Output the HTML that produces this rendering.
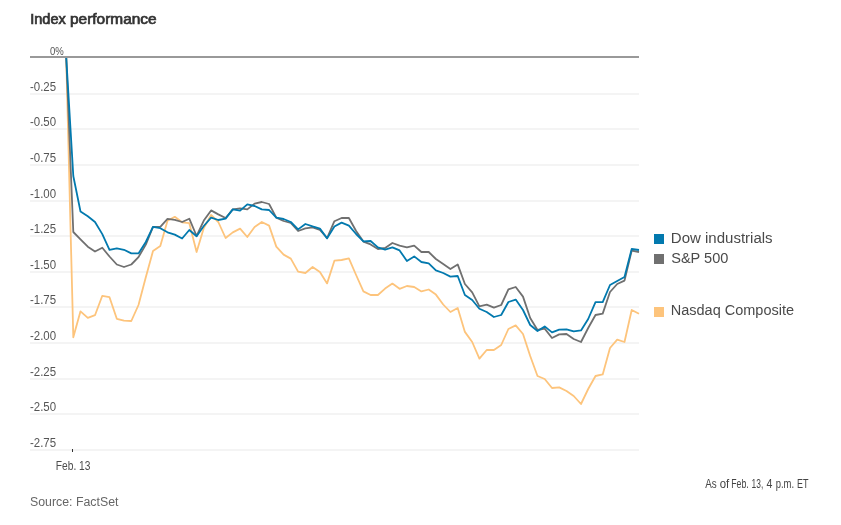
<!DOCTYPE html>
<html><head><meta charset="utf-8"><title>Index performance</title>
<style>
html,body{margin:0;padding:0;background:#fff;}
svg{display:block;will-change:transform;font-family:"Liberation Sans",sans-serif;}
.grid rect{fill:#f4f4f4;}
.yl text{font-size:12px;fill:#555;}
.ln{fill:none;stroke-width:1.8;stroke-linejoin:round;stroke-linecap:butt;}
</style></head><body>
<svg width="841" height="525" viewBox="0 0 841 525">
<rect width="841" height="525" fill="#fff"/>
<g font-size="14.5" fill="#333" stroke="#333" stroke-width="0.7"><text x="30.2" y="24" textLength="35.6" lengthAdjust="spacingAndGlyphs">Index</text><text x="70.0" y="24" textLength="86.6" lengthAdjust="spacingAndGlyphs">performance</text></g>
<g class="grid"><rect x="30" y="93" width="609" height="2"/><rect x="30" y="128" width="609" height="2"/><rect x="30" y="164" width="609" height="2"/><rect x="30" y="200" width="609" height="2"/><rect x="30" y="235" width="609" height="2"/><rect x="30" y="271" width="609" height="2"/><rect x="30" y="306" width="609" height="2"/><rect x="30" y="342" width="609" height="2"/><rect x="30" y="378" width="609" height="2"/><rect x="30" y="413" width="609" height="2"/><rect x="30" y="449" width="609" height="2"/></g>
<polyline class="ln" stroke="#fdc47c" points="66.2,57.0 73.3,337.3 80.5,311.3 87.8,317.9 95.0,315.2 102.3,295.8 109.5,297.2 116.8,318.8 124.0,320.7 131.3,321.0 138.5,305.0 145.8,277.3 153.0,251.1 160.3,246.1 167.5,220.7 174.8,216.8 182.1,222.3 189.3,223.2 196.6,252.0 203.8,228.0 211.1,215.0 218.3,222.0 225.6,238.0 232.8,232.4 240.1,228.6 247.3,237.0 254.6,227.0 261.8,222.0 269.1,225.6 276.3,246.6 283.6,254.6 290.8,258.6 298.1,271.6 305.4,273.0 312.6,267.0 319.9,272.0 327.1,283.4 334.4,260.7 341.6,260.0 348.9,258.4 356.1,275.0 363.4,291.4 370.6,295.0 377.9,295.0 385.1,288.6 392.4,283.6 399.6,288.8 406.9,286.0 414.2,287.0 421.4,291.4 428.7,289.5 435.9,294.6 443.2,304.5 450.4,312.0 457.7,308.0 464.9,331.9 472.2,342.0 479.4,358.6 486.7,350.0 493.9,350.0 501.2,345.0 508.4,329.0 515.7,325.4 523.0,334.0 530.2,356.0 537.5,376.0 544.7,379.0 552.0,388.0 559.2,387.4 566.5,391.0 573.7,396.0 581.0,404.0 588.2,389.0 595.5,376.0 602.7,374.4 610.0,348.0 617.2,339.6 624.5,342.0 631.7,310.0 639.0,313.8"/>
<polyline class="ln" stroke="#707070" points="66.2,57.0 73.3,232.0 80.5,239.3 87.8,246.7 95.0,251.5 102.3,247.7 109.5,256.5 116.8,264.5 124.0,267.0 131.3,264.5 138.5,257.1 145.8,244.6 153.0,226.8 160.3,226.8 167.5,218.8 174.8,219.8 182.1,222.0 189.3,218.7 196.6,236.0 203.8,220.6 211.1,210.4 218.3,214.4 225.6,218.0 232.8,209.4 240.1,208.4 247.3,209.4 254.6,203.6 261.8,202.0 269.1,204.0 276.3,217.6 283.6,221.0 290.8,223.0 298.1,231.0 305.4,228.4 312.6,227.4 319.9,230.0 327.1,238.0 334.4,221.2 341.6,218.0 348.9,218.0 356.1,231.0 363.4,241.6 370.6,244.4 377.9,249.0 385.1,248.0 392.4,243.0 399.6,245.6 406.9,247.4 414.2,245.6 421.4,252.0 428.7,252.0 435.9,259.0 443.2,264.0 450.4,269.0 457.7,264.4 464.9,284.0 472.2,292.4 479.4,306.3 486.7,304.6 493.9,307.6 501.2,305.0 508.4,289.4 515.7,287.0 523.0,296.6 530.2,318.0 537.5,330.0 544.7,328.6 552.0,338.0 559.2,334.4 566.5,334.0 573.7,339.0 581.0,342.0 588.2,328.0 595.5,315.0 602.7,313.6 610.0,292.0 617.2,284.0 624.5,280.6 631.7,250.6 639.0,252.0"/>
<polyline class="ln" stroke="#0279ae" points="66.2,57.0 73.3,176.0 80.5,211.5 87.8,216.3 95.0,222.0 102.3,234.1 109.5,249.8 116.8,248.4 124.0,249.8 131.3,253.4 138.5,253.4 145.8,242.0 153.0,226.8 160.3,228.2 167.5,232.3 174.8,234.6 182.1,238.5 189.3,230.0 196.6,236.2 203.8,226.0 211.1,217.6 218.3,220.0 225.6,218.6 232.8,209.4 240.1,210.6 247.3,204.4 254.6,206.0 261.8,209.4 269.1,210.0 276.3,217.6 283.6,219.0 290.8,222.0 298.1,229.4 305.4,224.0 312.6,226.4 319.9,228.6 327.1,238.4 334.4,226.5 341.6,222.6 348.9,225.6 356.1,234.0 363.4,241.4 370.6,241.0 377.9,247.4 385.1,249.6 392.4,247.4 399.6,250.4 406.9,261.0 414.2,256.4 421.4,262.0 428.7,263.4 435.9,270.4 443.2,273.0 450.4,276.6 457.7,276.0 464.9,295.0 472.2,300.0 479.4,308.7 486.7,312.0 493.9,317.0 501.2,315.0 508.4,302.0 515.7,299.6 523.0,310.0 530.2,325.0 537.5,331.0 544.7,326.4 552.0,332.4 559.2,329.6 566.5,329.4 573.7,331.4 581.0,330.4 588.2,319.0 595.5,302.1 602.7,302.1 610.0,285.0 617.2,281.0 624.5,277.0 631.7,249.0 639.0,250.0"/>
<rect x="30" y="56" width="609" height="2" fill="#999999"/>
<text x="50" y="54.6" font-size="11.5" fill="#555" textLength="13.8" lengthAdjust="spacingAndGlyphs">0%</text>
<g class="yl"><text x="30" y="90.8" textLength="26.1" lengthAdjust="spacingAndGlyphs">-0.25</text><text x="30" y="125.8" textLength="26.1" lengthAdjust="spacingAndGlyphs">-0.50</text><text x="30" y="161.8" textLength="26.1" lengthAdjust="spacingAndGlyphs">-0.75</text><text x="30" y="197.8" textLength="26.1" lengthAdjust="spacingAndGlyphs">-1.00</text><text x="30" y="232.8" textLength="26.1" lengthAdjust="spacingAndGlyphs">-1.25</text><text x="30" y="268.8" textLength="26.1" lengthAdjust="spacingAndGlyphs">-1.50</text><text x="30" y="303.8" textLength="26.1" lengthAdjust="spacingAndGlyphs">-1.75</text><text x="30" y="339.8" textLength="26.1" lengthAdjust="spacingAndGlyphs">-2.00</text><text x="30" y="375.8" textLength="26.1" lengthAdjust="spacingAndGlyphs">-2.25</text><text x="30" y="410.8" textLength="26.1" lengthAdjust="spacingAndGlyphs">-2.50</text><text x="30" y="446.8" textLength="26.1" lengthAdjust="spacingAndGlyphs">-2.75</text></g>
<rect x="72" y="449" width="1" height="3" fill="#333"/>
<text x="55.8" y="469.9" font-size="12.5" fill="#4d4d4d" textLength="34.6" lengthAdjust="spacingAndGlyphs">Feb. 13</text>
<text x="30" y="505.6" font-size="12.5" fill="#666" textLength="88.5" lengthAdjust="spacingAndGlyphs">Source: FactSet</text>
<g font-size="12" fill="#444"><text x="705.2" y="487.8" textLength="11.5" lengthAdjust="spacingAndGlyphs">As</text><text x="719.7" y="487.8" textLength="9.5" lengthAdjust="spacingAndGlyphs">of</text><text x="731.3" y="487.8" textLength="17.4" lengthAdjust="spacingAndGlyphs">Feb.</text><text x="751.6" y="487.8" textLength="11.7" lengthAdjust="spacingAndGlyphs">13,</text><text x="766.6" y="487.8" textLength="5.9" lengthAdjust="spacingAndGlyphs">4</text><text x="775.7" y="487.8" textLength="18.4" lengthAdjust="spacingAndGlyphs">p.m.</text><text x="797.1" y="487.8" textLength="11.5" lengthAdjust="spacingAndGlyphs">ET</text></g>
<rect x="654" y="234" width="10" height="10" fill="#0279ae"/>
<rect x="654" y="254" width="10" height="10" fill="#707070"/>
<rect x="654" y="307" width="10" height="10" fill="#fdc47c"/>
<g font-size="14" fill="#4a4a4a">
<text x="670.8" y="243" textLength="101.8" lengthAdjust="spacingAndGlyphs">Dow industrials</text>
<text x="671.2" y="263" textLength="57.2" lengthAdjust="spacingAndGlyphs">S&amp;P 500</text>
<text x="670.8" y="315" textLength="123.2" lengthAdjust="spacingAndGlyphs">Nasdaq Composite</text>
</g>
</svg>
</body></html>
